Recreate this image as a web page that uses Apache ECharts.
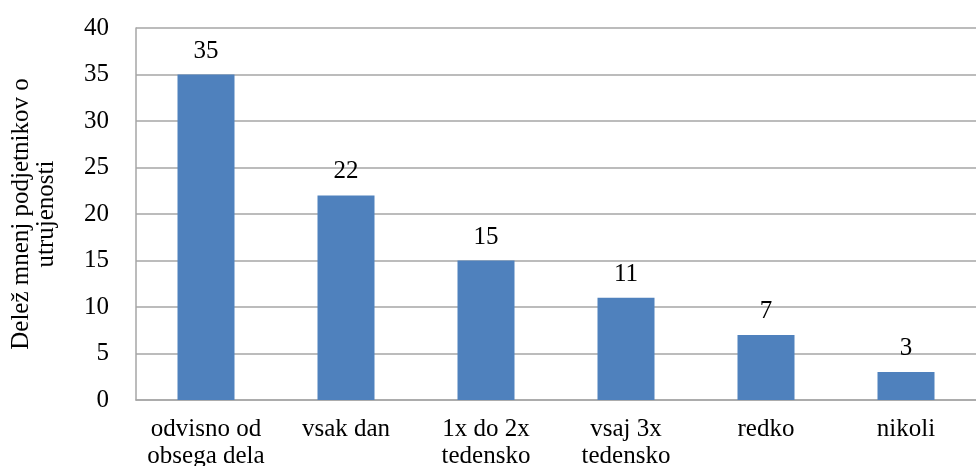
<!DOCTYPE html>
<html>
<head>
<meta charset="utf-8">
<script src="https://cdn.jsdelivr.net/npm/echarts@6/dist/echarts.min.js"></script>
<style>
  html, body { margin: 0; padding: 0; background: #fff; }
  #chart { width: 976px; height: 466px; }
</style>
</head>
<body>
<div id="chart"></div>
<script>
const categories = ['odvisno od\nobsega dela', 'vsak dan', '1x do 2x\ntedensko', 'vsaj 3x\ntedensko', 'redko', 'nikoli'];
const values = [35, 22, 15, 11, 7, 3];
const yTitle = 'Delež mnenj podjetnikov o\nutrujenosti';

const chart = echarts.init(document.getElementById('chart'));
const font = '"Liberation Serif", "Times New Roman", serif';

const option = {
  animation: false,
  grid: { left: 136, right: 0, top: 28, bottom: 66, outerBoundsMode: 'none', containLabel: false },
  xAxis: {
    type: 'category',
    data: categories,
    axisLine: { lineStyle: { color: '#a6a6a6', width: 1.5 } },
    axisTick: { show: false },
    axisLabel: {
      color: '#000',
      fontFamily: font,
      fontSize: 25,
      lineHeight: 27,
      margin: 16,
      interval: 0
    }
  },
  yAxis: {
    type: 'value',
    min: 0,
    max: 40,
    interval: 5,
    name: yTitle,
    nameLocation: 'middle',
    nameRotate: 90,
    nameGap: 77,
    nameTextStyle: { color: '#000', fontFamily: font, fontSize: 25, lineHeight: 25 },
    axisLine: { show: true, lineStyle: { color: '#a6a6a6', width: 1.5 } },
    axisTick: { show: false },
    splitLine: { lineStyle: { color: '#a6a6a6', width: 1.5 } },
    axisLabel: { color: '#000', fontFamily: font, fontSize: 25, margin: 27 }
  },
  series: [{
    type: 'bar',
    data: values,
    barWidth: 57,
    itemStyle: { color: '#4f81bd' },
    label: {
      show: true,
      position: 'top',
      distance: 11,
      color: '#000',
      fontFamily: font,
      fontSize: 25
    }
  }]
};

chart.setOption(option);
</script>
</body>
</html>
